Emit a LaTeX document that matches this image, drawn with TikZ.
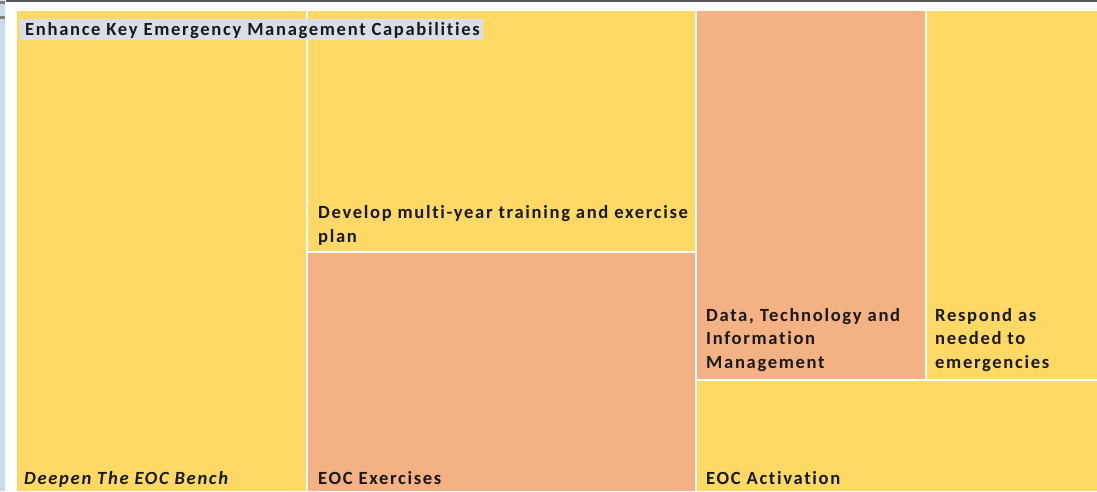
\documentclass[tikz,border=0pt]{standalone}
\usepackage{fontspec}
\setmainfont{Carlito}
\newfontfamily\cellfont[LetterSpace=9,Ligatures=NoCommon]{Carlito}
\definecolor{tmyel}{HTML}{FFD966}
\definecolor{tmsal}{HTML}{F4B183}
\definecolor{tmlbl}{HTML}{D9DEE8}
\definecolor{sideblue}{HTML}{C9D9EE}
\definecolor{topgray}{HTML}{555555}
\tikzset{
  cell/.style={draw=none},
  lbl/.style={anchor=base west, inner sep=0pt, font=\cellfont\fontsize{18.6}{22}\selectfont\bfseries, text=black!90},
  lbli/.style={lbl, font=\cellfont\fontsize{18.6}{22}\selectfont\bfseries\itshape},
}
\begin{document}
\begin{tikzpicture}[x=1pt,y=-1pt]
\useasboundingbox (0,0) rectangle (1097,491);
\fill[white] (0,0) rectangle (1097,491);
% left strip and top line
\fill[sideblue] (0,0) rectangle (5,491);
\fill[topgray] (6,0) rectangle (1097,1.5);
\fill[gray] (0,1) rectangle (5,4);
\fill[gray] (0,16) rectangle (5,19);
% cells
\fill[tmyel, cell] (17,11) rectangle (306,491);
\fill[tmyel, cell] (308,11) rectangle (695,251);
\fill[tmsal, cell] (308,253) rectangle (695,491);
\fill[tmsal, cell] (697,11) rectangle (925,379);
\fill[tmyel, cell] (927,11) rectangle (1097,379);
\fill[tmyel, cell] (697,381) rectangle (1097,491);
% title
\fill[tmlbl] (20,19) rectangle (483,40);
\node[lbl] (title) at (25,35) {Enhance Key Emergency Management Capabilities};
% labels
\node[lbli] (deep) at (24,484) {Deepen The EOC Bench};
\node[lbl] (dev1) at (318,218) {Develop multi-year training and exercise};
\node[lbl] (dev2) at (318,242) {plan};
\node[lbl] (exer) at (318,484) {EOC Exercises};
\node[lbl] (data1) at (706,321) {Data, Technology and};
\node[lbl] (data2) at (706,344) {Information};
\node[lbl] (data3) at (706,368) {Management};
\node[lbl] (resp1) at (935,321) {Respond as};
\node[lbl] (resp2) at (935,344) {needed to};
\node[lbl] (resp3) at (935,368) {emergencies};
\node[lbl] (act) at (706,484) {EOC Activation};
\end{tikzpicture}
\end{document}
